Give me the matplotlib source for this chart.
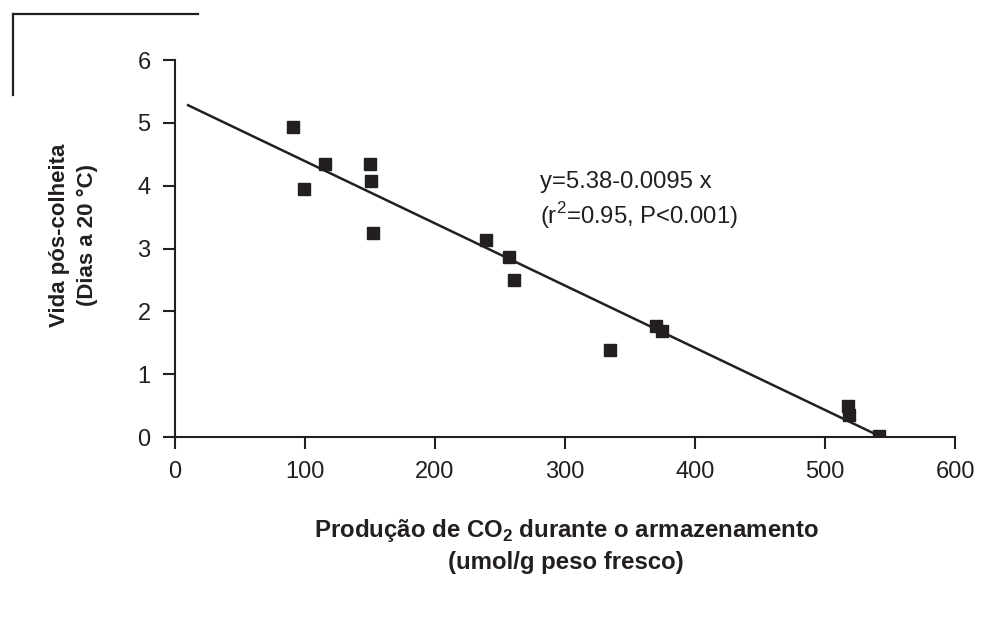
import numpy as np
import matplotlib.pyplot as plt
from matplotlib.lines import Line2D

plt.rcParams['font.family'] = ['Liberation Sans', 'DejaVu Sans']
plt.rcParams['mathtext.fontset'] = 'custom'
plt.rcParams['mathtext.rm'] = 'Liberation Sans'
plt.rcParams['mathtext.bf'] = 'Liberation Sans:bold'

INK = '#231f20'

# CO2 production (umol/g fresh weight) vs post-harvest life (days at 20 C)
co2 = [90.8, 99, 115.4, 150, 150.8, 152.3, 239.2, 256.7, 260.5,
       334.6, 369.8, 374.4, 517.5, 518.2, 541.3]
vida = [4.93, 3.94, 4.35, 4.35, 4.08, 3.25, 3.14, 2.87, 2.50,
        1.38, 1.76, 1.69, 0.49, 0.35, 0.02]

# fitted line as drawn
fit_a = 5.38
fit_b = -0.0099
fit_x = [10, 543]

xticks = [0, 100, 200, 300, 400, 500, 600]
yticks = [0, 1, 2, 3, 4, 5, 6]

fig = plt.figure(figsize=(10.02, 6.19), dpi=100)
ax = fig.add_axes([0.1747, 0.294, 0.7784, 0.609])

ax.plot(co2, vida, 's', color=INK, markersize=8.6, zorder=3)
fx = np.array(fit_x)
ax.plot(fx, fit_a + fit_b * fx, color=INK, linewidth=1.8)

ax.set_xlim(0, 600)
ax.set_ylim(0, 6)
ax.set_xticks(xticks)
ax.set_yticks(yticks)
ax.tick_params(direction='out', length=8.6, width=1.5, color=INK,
               labelsize=17, labelcolor=INK, pad=9)
for s in ['top', 'right']:
    ax.spines[s].set_visible(False)
for s in ['left', 'bottom']:
    ax.spines[s].set_linewidth(1.5)
    ax.spines[s].set_color(INK)

ax.text(281, 4.06, 'y=5.38-0.0095 x', fontsize=17.2, color=INK, va='center')
ax.text(281, 3.53, '(r$^2$=0.95, P<0.001)', fontsize=17.2, color=INK, va='center')

# axis titles
fig.text(60 / 1002, 1 - 235 / 619, 'Vida pós-colheita', rotation=90,
         ha='center', va='center', fontsize=16, fontweight='bold', color=INK)
fig.text(87 / 1002, 1 - 235 / 619, '(Dias a 20 °C)', rotation=90,
         ha='center', va='center', fontsize=16, fontweight='bold', color=INK)
fig.text(566 / 1002, 1 - 531 / 619,
         r'Produção de CO$_\mathbf{2}$ durante o armazenamento',
         ha='center', va='center', fontsize=17.3, fontweight='bold', color=INK)
fig.text(566 / 1002, 1 - 562 / 619, '(umol/g peso fresco)',
         ha='center', va='center', fontsize=17.3, fontweight='bold', color=INK)

# corner frame fragment at top left
fig.add_artist(Line2D([13 / 1002, 198 / 1002], [1 - 14 / 619, 1 - 14 / 619],
                      color=INK, linewidth=1.6))
fig.add_artist(Line2D([13 / 1002, 13 / 1002], [1 - 14 / 619, 1 - 95 / 619],
                      color=INK, linewidth=1.6))

fig.savefig('out.png', dpi=100)
